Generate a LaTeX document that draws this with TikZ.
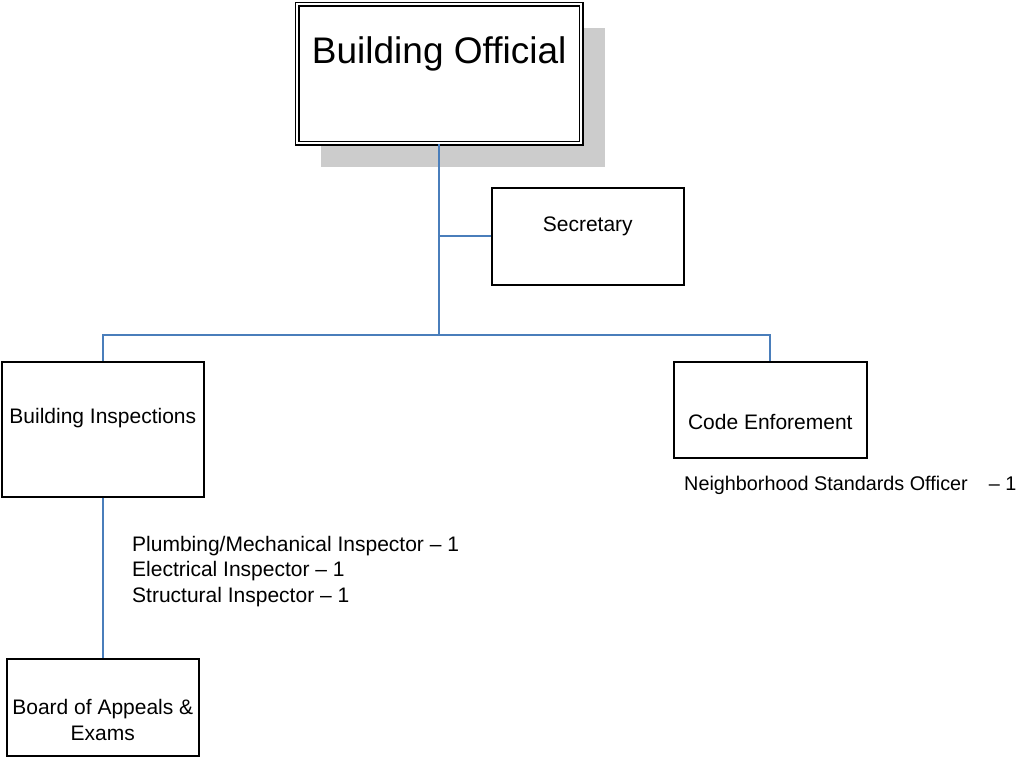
\documentclass[tikz,border=0pt]{standalone}
\usepackage{fontspec}
\setmainfont{Liberation Sans}
\usetikzlibrary{shadows}
\definecolor{linkblue}{HTML}{4A7EBB}

\begin{document}
\begin{tikzpicture}[x=1pt, y=-1pt,
	unit/.style={draw, fill=white, line width=1.6pt, inner sep=0pt, anchor=north west, font=\fontsize{21}{26}\selectfont},
	link/.style={draw=linkblue, line width=1.8pt},
	staff/.style={inner sep=0pt, align=left, font=\fontsize{21}{25.5}\selectfont}]
	\useasboundingbox (0,0) rectangle (1025,756);
	% units
	\node[unit, double, double distance=2.5pt, line width=1.3pt, minimum width=284pt, text height=59.5pt, text depth=79.5pt,
		font=\fontsize{37}{44}\selectfont,
		drop shadow={shadow xshift=24pt, shadow yshift=-24pt, fill=black!20, opacity=1}] (OFFICIAL) at (296.5,3.5) {Building Official};
	\node[unit, minimum width=192pt, text height=44pt, text depth=53pt] (SECRETARY) at (491,187) {Secretary};
	\node[unit, minimum width=202pt, text height=62pt, text depth=73pt] (INSPECTIONS) at (1,361) {Building Inspections};
	\node[unit, minimum width=193pt, text height=68pt, text depth=28pt] (CODE) at (673,361) {Code Enforement};
	\node[unit, align=center, minimum width=192pt, text height=82pt, text depth=15pt] (BOARD) at (6,658) {Board of Appeals \&\\Exams};
	% staff (base = last line)
	\node[staff, anchor=base west] (INSPECTORS) at (132,602) {Plumbing/Mechanical Inspector \textendash\ 1\\Electrical Inspector \textendash\ 1\\Structural Inspector \textendash\ 1};
	\node[staff, anchor=base west, font=\fontsize{19.8}{24}\selectfont] (OFFICER) at (684,490) {Neighborhood Standards Officer\hspace{21pt}\textendash\ 1};
	% links
	\coordinate (BUS) at (OFFICIAL.south |- 0,335);
	\draw[link] (OFFICIAL.south) -- (BUS);
	\draw[link] (OFFICIAL.south |- SECRETARY.west) -- (SECRETARY.west);
	\draw[link] (INSPECTIONS.north) |- (BUS) -| (CODE.north);
	\draw[link] (INSPECTIONS.south) -- (INSPECTIONS.south |- BOARD.north);
\end{tikzpicture}
\end{document}
